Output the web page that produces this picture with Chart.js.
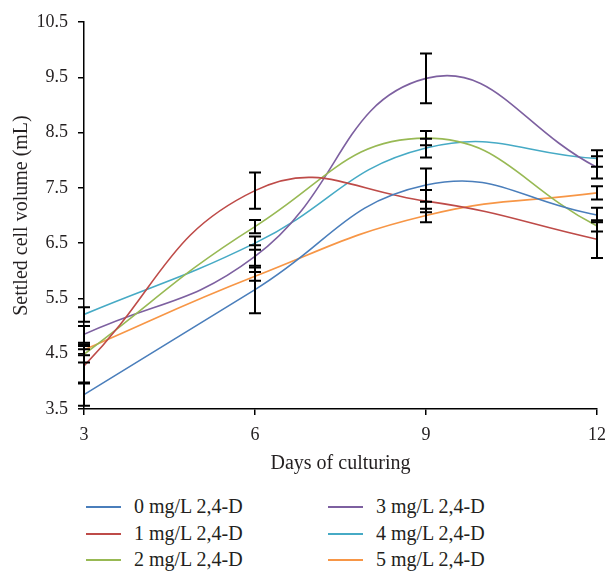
<!DOCTYPE html>
<html>
<head>
<meta charset="utf-8">
<script src="https://cdn.jsdelivr.net/npm/chart.js@4.4.1/dist/chart.umd.min.js"></script>
<style>
    body { margin: 0; background: #fff; font-family: "Liberation Serif", serif; }
    #wrap { position: relative; width: 615px; height: 571px; }
    #chartBox { position: absolute; left: 0; top: 0; width: 615px; height: 480px; }
    #legend { position: absolute; left: 0; top: 493px; width: 615px; }
    .item { position: absolute; height: 26px; line-height: 26px; font-size: 20px; color: #231f20; white-space: nowrap; }
    .item span.swatch { position: absolute; left: 0; top: 13px; width: 35px; height: 2px; }
    .item span.label { position: absolute; left: 48px; top: 0; }
</style>
</head>
<body>
<div id="wrap">
    <div id="chartBox"><canvas id="growthChart" width="615" height="480"></canvas></div>
    <div id="legend"></div>
</div>
<script>
const days = [3, 6, 9, 12];
const seriesNames = ['0 mg/L 2,4-D', '1 mg/L 2,4-D', '2 mg/L 2,4-D', '3 mg/L 2,4-D', '4 mg/L 2,4-D', '5 mg/L 2,4-D'];
const dose0 = [3.76, 5.66, 7.55, 7.01];
const dose1 = [4.28, 7.45, 7.26, 6.57];
const dose2 = [4.49, 6.80, 8.40, 6.81];
const dose3 = [4.85, 6.26, 9.48, 7.87];
const dose4 = [5.21, 6.50, 8.22, 8.03];
const dose5 = [4.57, 5.90, 7.00, 7.41];
const err0 = [0.20, 0.43, 0.30, 0.13];
const err1 = [0.30, 0.33, 0.20, 0.34];
const err2 = [0.15, 0.12, 0.13, 0.10];
const err3 = [0.15, 0.20, 0.45, 0.20];
const err4 = [0.13, 0.12, 0.17, 0.15];
const err5 = [0.10, 0.08, 0.12, 0.12];
const yTicks = [3.5, 4.5, 5.5, 6.5, 7.5, 8.5, 9.5, 10.5];
const colors = ['#4a7ebb', '#be4b48', '#98b954', '#7d60a0', '#46aac5', '#f79646'];

document.addEventListener('DOMContentLoaded', function() {
    const values = [dose0, dose1, dose2, dose3, dose4, dose5];
    const errors = [err0, err1, err2, err3, err4, err5];
    const tickFont = { family: '"Liberation Serif", serif', size: 18 };
    const titleFont = { family: '"Liberation Serif", serif', size: 20 };

    const datasets = values.map((vals, i) => ({
        label: seriesNames[i],
        data: days.map((d, j) => ({ x: d, y: vals[j] })),
        errors: errors[i],
        borderColor: colors[i],
        backgroundColor: colors[i],
        borderWidth: 1.6,
        pointRadius: 0,
        tension: 0.45,
        fill: false
    }));

    // black error bars, drawn over the lines
    const errorBars = {
        id: 'errorBars',
        afterDatasetsDraw(chart) {
            const ctx = chart.ctx;
            const xs = chart.scales.x, ys = chart.scales.y;
            ctx.save();
            ctx.strokeStyle = '#000';
            ctx.lineWidth = 2;
            chart.data.datasets.forEach(ds => {
                ds.data.forEach((p, j) => {
                    const e = ds.errors[j];
                    const x = xs.getPixelForValue(p.x);
                    const top = ys.getPixelForValue(p.y + e);
                    const bot = ys.getPixelForValue(p.y - e);
                    ctx.beginPath();
                    ctx.moveTo(x, top); ctx.lineTo(x, bot);
                    ctx.moveTo(x - 6, top); ctx.lineTo(x + 6, top);
                    ctx.moveTo(x - 6, bot); ctx.lineTo(x + 6, bot);
                    ctx.stroke();
                });
            });
            ctx.restore();
        }
    };

    const chart = new Chart(document.getElementById('growthChart'), {
        type: 'line',
        data: { datasets: datasets },
        options: {
            responsive: false,
            animation: false,
            layout: { padding: { left: 0, right: 15, top: 22, bottom: 0 } },
            plugins: { legend: { display: false }, tooltip: { enabled: false } },
            scales: {
                x: {
                    type: 'linear',
                    min: 3, max: 12,
                    afterFit: s => { s.height = 71; },
                    afterBuildTicks: s => { s.ticks = days.map(v => ({ value: v })); },
                    grid: { drawOnChartArea: false, drawTicks: true, tickLength: 6, color: '#000', lineWidth: 1.5 },
                    border: { color: '#000', width: 1.5 },
                    ticks: { font: tickFont, color: '#231f20', padding: 9, maxRotation: 0 },
                    title: { display: true, text: 'Days of culturing', font: titleFont, color: '#231f20', padding: { top: 0, bottom: 4 } }
                },
                y: {
                    type: 'linear',
                    min: 3.5, max: 10.5,
                    afterFit: s => { s.width = 84; },
                    afterBuildTicks: s => { s.ticks = yTicks.map(v => ({ value: v })); },
                    grid: { drawOnChartArea: false, drawTicks: true, tickLength: 6, color: '#000', lineWidth: 1.5 },
                    border: { color: '#000', width: 1.5 },
                    ticks: { font: tickFont, color: '#231f20', padding: 10, callback: v => v.toFixed(1) },
                    title: { display: true, text: 'Settled cell volume (mL)', font: titleFont, color: '#231f20', padding: { top: 10, bottom: 0 } }
                }
            }
        },
        plugins: [errorBars]
    });

    buildLegend(chart);

    function buildLegend(chart) {
        const box = document.getElementById('legend');
        const colX = [86, 328];
        chart.data.datasets.forEach((ds, i) => {
            const item = document.createElement('div');
            item.className = 'item';
            item.style.left = colX[Math.floor(i / 3)] + 'px';
            item.style.top = (i % 3) * 26.5 + 'px';
            item.innerHTML = '<span class="swatch" style="background:' + ds.borderColor + '"></span><span class="label">' + ds.label + '</span>';
            box.appendChild(item);
        });
    }
});
</script>
</body>
</html>
